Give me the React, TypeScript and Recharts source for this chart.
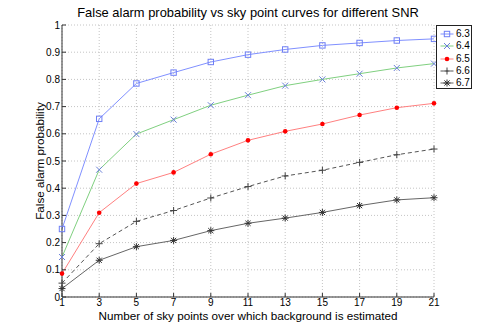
import React from 'react';
import { LineChart, Line, XAxis, YAxis, CartesianGrid } from 'recharts';

const skyPoints = [1, 3, 5, 7, 9, 11, 13, 15, 17, 19, 21];
const snr63 = [0.25, 0.655, 0.785, 0.825, 0.864, 0.891, 0.91, 0.925, 0.934, 0.943, 0.949];
const snr64 = [0.147, 0.468, 0.599, 0.652, 0.705, 0.742, 0.777, 0.8, 0.821, 0.842, 0.858];
const snr65 = [0.086, 0.31, 0.417, 0.458, 0.525, 0.576, 0.609, 0.636, 0.669, 0.696, 0.712];
const snr66 = [0.051, 0.196, 0.278, 0.318, 0.364, 0.406, 0.445, 0.466, 0.495, 0.523, 0.544];
const snr67 = [0.031, 0.135, 0.185, 0.208, 0.244, 0.271, 0.29, 0.311, 0.336, 0.357, 0.365];
const seriesNames = ['6.3', '6.4', '6.5', '6.6', '6.7'];
const xTicks = [1, 3, 5, 7, 9, 11, 13, 15, 17, 19, 21];
const yTicks = [0, 0.1, 0.2, 0.3, 0.4, 0.5, 0.6, 0.7, 0.8, 0.9, 1];

const title = 'False alarm probability vs sky point curves for different SNR';
const xLabel = 'Number of sky points over which background is estimated';
const yLabel = 'False alarm probability';

const FONT = '"Liberation Sans", Arial, Helvetica, sans-serif';

type MarkerType = 'square' | 'x' | 'dot' | 'plus' | 'star';

const seriesStyle: { line: string; marker: string; type: MarkerType; dash?: string }[] = [
  { line: '#8090ff', marker: '#6f7ff5', type: 'square' },
  { line: '#80d080', marker: '#6a7fd8', type: 'x' },
  { line: '#ff8080', marker: '#ff0000', type: 'dot' },
  { line: '#555555', marker: '#444444', type: 'plus', dash: '4 3' },
  { line: '#666666', marker: '#333333', type: 'star' },
];

const seriesValues = [snr63, snr64, snr65, snr66, snr67];

const data = skyPoints.map((x, i) => {
  const row: Record<string, number> = { x };
  seriesNames.forEach((n, k) => {
    row['s' + k] = seriesValues[k][i];
  });
  return row;
});

function Marker({ type, cx, cy, color }: { type: MarkerType; cx: number; cy: number; color: string }) {
  switch (type) {
    case 'square':
      return <rect x={cx - 2.7} y={cy - 2.7} width={5.4} height={5.4} fill="none" stroke={color} strokeWidth={1} />;
    case 'x':
      return (
        <path
          d={`M${cx - 3},${cy - 3}L${cx + 3},${cy + 3}M${cx - 3},${cy + 3}L${cx + 3},${cy - 3}`}
          stroke={color}
          strokeWidth={1}
          fill="none"
        />
      );
    case 'dot':
      return <circle cx={cx} cy={cy} r={2.3} fill={color} stroke="none" />;
    case 'plus':
      return (
        <path
          d={`M${cx - 3.5},${cy}L${cx + 3.5},${cy}M${cx},${cy - 3.5}L${cx},${cy + 3.5}`}
          stroke={color}
          strokeWidth={1}
          fill="none"
        />
      );
    case 'star':
    default:
      return (
        <path
          d={`M${cx - 3.5},${cy}L${cx + 3.5},${cy}M${cx},${cy - 3.5}L${cx},${cy + 3.5}M${cx - 2.6},${cy - 2.6}L${cx + 2.6},${cy + 2.6}M${cx - 2.6},${cy + 2.6}L${cx + 2.6},${cy - 2.6}`}
          stroke={color}
          strokeWidth={1}
          fill="none"
        />
      );
  }
}

const tickStyle = { fontSize: 10, fill: '#000', fontFamily: FONT };
const axisStroke = '#333';

export default function App() {
  return (
    <div style={{ position: 'absolute', left: 0, top: 0, width: 480, height: 335, background: '#fff', fontFamily: FONT }}>
      <div
        style={{
          position: 'absolute',
          left: 62,
          width: 372,
          top: 5,
          textAlign: 'center',
          fontSize: 12.9,
          lineHeight: '15px',
          color: '#000',
          whiteSpace: 'nowrap',
        }}
      >
        {title}
      </div>
      <LineChart width={480} height={335} data={data} margin={{ top: 25, right: 46, bottom: 0, left: 0 }}>
        <CartesianGrid stroke="#c4c4c4" strokeDasharray="1 2" />
        <XAxis
          dataKey="x"
          type="number"
          domain={[1, 21]}
          ticks={xTicks}
          interval={0}
          height={38}
          tickSize={-4}
          tickMargin={6}
          tick={tickStyle}
          stroke={axisStroke}
          label={{
            content: (p: any) => (
              <text
                x={p.viewBox.x + p.viewBox.width / 2}
                y={p.viewBox.y + 22.5}
                textAnchor="middle"
                fontSize={11.7}
                fontFamily={FONT}
                fill="#000"
              >
                {xLabel}
              </text>
            ),
          }}
        />
        <XAxis
          xAxisId="top"
          orientation="top"
          type="number"
          domain={[1, 21]}
          ticks={xTicks}
          interval={0}
          height={0}
          tickSize={-4}
          tickFormatter={() => ''}
          stroke={axisStroke}
        />
        <YAxis
          type="number"
          domain={[0, 1]}
          ticks={yTicks}
          interval={0}
          width={62}
          tickSize={-4}
          tickMargin={6}
          tick={tickStyle}
          stroke={axisStroke}
          tickFormatter={(v: number) => String(Math.round(v * 10) / 10)}
          label={{
            content: (p: any) => {
              const cx = p.viewBox.x + 39;
              const cy = p.viewBox.y + p.viewBox.height / 2;
              return (
                <text
                  x={cx}
                  y={cy}
                  transform={`rotate(-90 ${cx} ${cy})`}
                  textAnchor="middle"
                  dominantBaseline="central"
                  fontSize={11.7}
                  fontFamily={FONT}
                  fill="#000"
                >
                  {yLabel}
                </text>
              );
            },
          }}
        />
        <YAxis
          yAxisId="right"
          orientation="right"
          type="number"
          domain={[0, 1]}
          ticks={yTicks}
          interval={0}
          width={0}
          tickSize={-4}
          tickFormatter={() => ''}
          stroke={axisStroke}
        />
        {seriesNames.map((name, k) => {
          const st = seriesStyle[k];
          return (
            <Line
              key={name}
              name={name}
              dataKey={'s' + k}
              type="linear"
              stroke={st.line}
              strokeWidth={1}
              strokeDasharray={st.dash}
              isAnimationActive={false}
              activeDot={false}
              dot={(p: any) => (
                <g key={`${name}-${p.index}`}>
                  <Marker type={st.type} cx={p.cx} cy={p.cy} color={st.marker} />
                </g>
              )}
            />
          );
        })}
      </LineChart>
      <div
        style={{
          position: 'absolute',
          left: 436,
          top: 25,
          width: 36,
          height: 64,
          border: '1px solid #222',
          background: '#fff',
          boxSizing: 'border-box',
          paddingTop: 2,
          paddingLeft: 3,
        }}
      >
        {seriesNames.map((name, k) => {
          const st = seriesStyle[k];
          return (
            <div key={name} style={{ display: 'flex', alignItems: 'center', height: 12.25 }}>
              <svg width={14} height={12} style={{ display: 'block', flex: 'none' }}>
                <line x1={0.5} y1={6} x2={13.5} y2={6} stroke={st.line} strokeWidth={1} strokeDasharray={st.dash ? '3 2' : undefined} />
                <Marker type={st.type} cx={7} cy={6} color={st.marker} />
              </svg>
              <span style={{ fontSize: 10, marginLeft: 2, lineHeight: '12px', color: '#000', whiteSpace: 'nowrap' }}>{name}</span>
            </div>
          );
        })}
      </div>
    </div>
  );
}
